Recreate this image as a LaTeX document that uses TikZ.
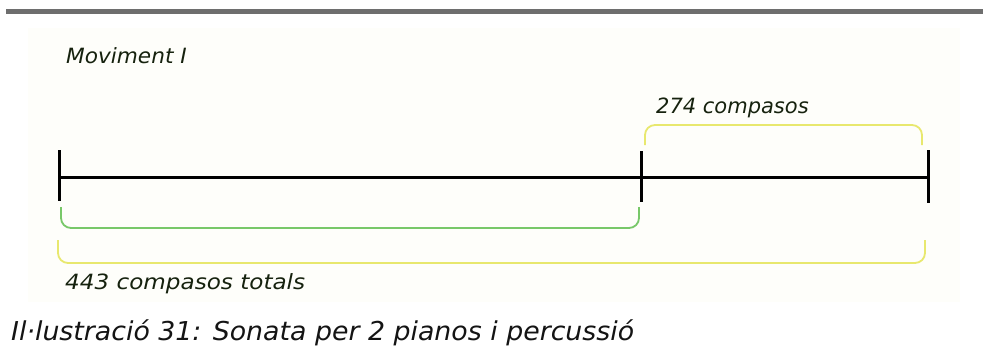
\documentclass[tikz,border=0pt]{standalone}
\usepackage{fontspec}
\usepackage{graphicx}
\setmainfont{DejaVu Sans}
\usetikzlibrary{calc}
\newcommand{\widetxt}[2]{\scalebox{#1}[1]{#2}}
\definecolor{panel}{RGB}{254,254,250}
\definecolor{inkgreen}{RGB}{22,34,14}
\definecolor{bracegreencol}{RGB}{120,200,105}
\definecolor{braceyellowcol}{RGB}{232,232,110}
\begin{document}
\begin{tikzpicture}[x=1pt,y=-1pt,
  tick/.style={line width=3pt,black},
  axis/.style={line width=3pt,black},
  brace/.style={line width=1.8pt,rounded corners=10pt},
  lbl/.style={font=\itshape\fontsize{21}{21}\selectfont,text=inkgreen,inner sep=0pt,anchor=base west},
  bracegreen/.style={brace,draw=bracegreencol},
  braceyellow/.style={brace,draw=braceyellowcol}]
\useasboundingbox (0,0) rectangle (983,360);
\fill[white] (0,0) rectangle (983,360);
% rule along the top
\fill[black!57] (6,9) rectangle (983,14);
% faint panel behind the chart
\fill[panel] (28,28) rectangle (960,302);

% tick positions on the time line
\coordinate (a) at (59,177);
\coordinate (b) at (641,177);
\coordinate (c) at (928,177);

\draw[axis] (a) -- (c);
\draw[tick] ($(a)+(0,-27)$) -- ($(a)+(0,24)$);
\draw[tick] ($(b)+(0,-26)$) -- ($(b)+(0,25)$);
\draw[tick] ($(c)+(0,-27)$) -- ($(c)+(0,26)$);

% bracket under the first part
\draw[bracegreen] ($(a)+(2,30)$) |- ($($(a)!0.5!(b)$)+(0,51)$) -| ($(b)+(-2,30)$);
% bracket above the second part
\draw[braceyellow] ($(b)+(4,-32)$) |- ($($(b)!0.5!(c)$)+(0,-52)$) -| ($(c)+(-6,-32)$);
% bracket under the whole line
\draw[braceyellow] ($(a)+(-1,63)$) |- ($($(a)!0.5!(c)$)+(0,86)$) -| ($(c)+(-3,63)$);

\node[lbl] (title) at (66,63) {\widetxt{1.03}{Moviment I}};
\node[lbl] (part) at (656,113) {\widetxt{1.0}{274 compasos}};
\node[lbl] (total) at (65,289) {\widetxt{1.1}{443 compasos totals}};
\node[font=\itshape\fontsize{26}{26}\selectfont,text=black!92,inner sep=0pt,anchor=base west] (cap) at (11,340) {\widetxt{1.03}{Il·lustració 31: Sonata per 2 pianos i percussió}};
\end{tikzpicture}
\end{document}
